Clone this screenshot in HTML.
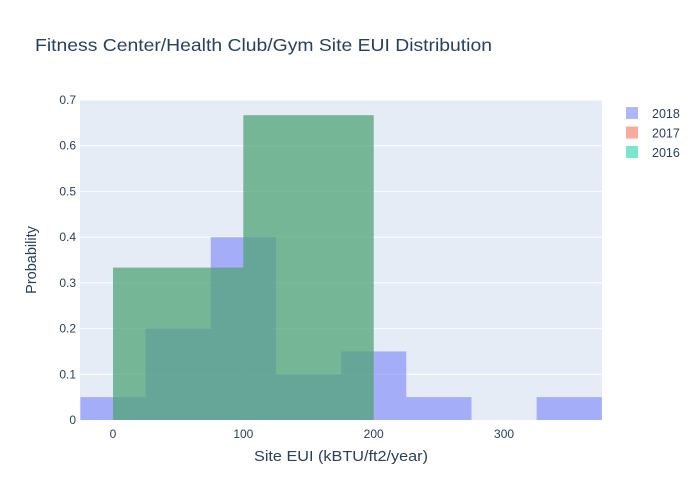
<!DOCTYPE html>
<html><head><meta charset="utf-8"><style>
body{margin:0;background:#fff}
svg{font-family:"Liberation Sans",sans-serif;display:block}
</style></head><body>
<svg id="c" width="700" height="500">
<rect x="0" y="0" width="700" height="500" fill="#fff"/>
<text x="35" y="51" font-size="17.5" textLength="457" lengthAdjust="spacingAndGlyphs" fill="#2a3f5f">Fitness Center/Health Club/Gym Site EUI Distribution</text>
<rect x="80" y="100" width="522" height="320" fill="#e5ecf6"/>
<g id="grid"></g><g id="bars"></g><g id="axes"></g>
<text transform="translate(36,260) rotate(-90)" text-anchor="middle" font-size="14.5" fill="#2a3f5f">Probability</text>
<text x="254" y="461" font-size="14.5" textLength="174" lengthAdjust="spacingAndGlyphs" fill="#2a3f5f">Site EUI (kBTU/ft2/year)</text>
<g id="legend"></g>
</svg>
<script>
const series = ["2018","2017","2016"];
const colors = ["#636efa","#EF553B","#00cc96"];
const edges2018 = [-25,25,75,125,175,225,275,325,375];
const vals2018 = [0.05,0.2,0.4,0.1,0.15,0.05,0,0.05];
const edges2017 = [0,100,200];
const vals2017 = [0.3333,0.6667];
const edges2016 = [0,100,200];
const vals2016 = [0.3333,0.6667];
const yTicks = [0,0.1,0.2,0.3,0.4,0.5,0.6,0.7];
const xTicks = [0,100,200,300];
const NS="http://www.w3.org/2000/svg";
const X=v=>113+v*1.3035, Y=v=>420-v*320/0.7;
function mk(t,a,p){const e=document.createElementNS(NS,t);for(const k in a)e.setAttribute(k,a[k]);p.appendChild(e);return e;}
const grid=document.getElementById('grid'),axes=document.getElementById('axes'),bars=document.getElementById('bars'),leg=document.getElementById('legend');
yTicks.forEach(t=>{
 if(t>0){const l=mk('line',{x1:80,x2:602,y1:Y(t),y2:Y(t),stroke:'#fff','stroke-width':1},grid);
 
 }
 const tx=mk('text',{x:76,y:Y(t)+4,'text-anchor':'end','font-size':12,fill:'#2a3f5f'},axes);tx.textContent=String(t);
 
 
});
xTicks.forEach(t=>{
 const tx=mk('text',{x:X(t),y:438,'text-anchor':'middle','font-size':12,fill:'#2a3f5f'},axes);tx.textContent=String(t);
 
 
});
const data=[[edges2018,vals2018],[edges2017,vals2017],[edges2016,vals2016]];
const cp=mk('clipPath',{id:'cp'},document.getElementById('c'));mk('rect',{x:80,y:100,width:522,height:320},cp);
bars.setAttribute('clip-path','url(#cp)');
data.forEach((d,si)=>{
 d[1].forEach((v,i)=>{
  if(v<=0)return;
  const r=mk('rect',{x:X(d[0][i]),width:X(d[0][i+1])-X(d[0][i]),y:Y(v),height:Y(0)-Y(v),fill:colors[si],'fill-opacity':0.5},bars);
  
  
 });
 const g=mk('g',{},leg);
 
 
 mk('rect',{x:626,y:107+si*19.5,width:12,height:12,fill:colors[si],'fill-opacity':0.5},g);
 const t=mk('text',{x:652,y:118+si*19.5,'font-size':12.5,fill:'#2a3f5f'},g);t.textContent=series[si];
});
</script>
</body></html>
